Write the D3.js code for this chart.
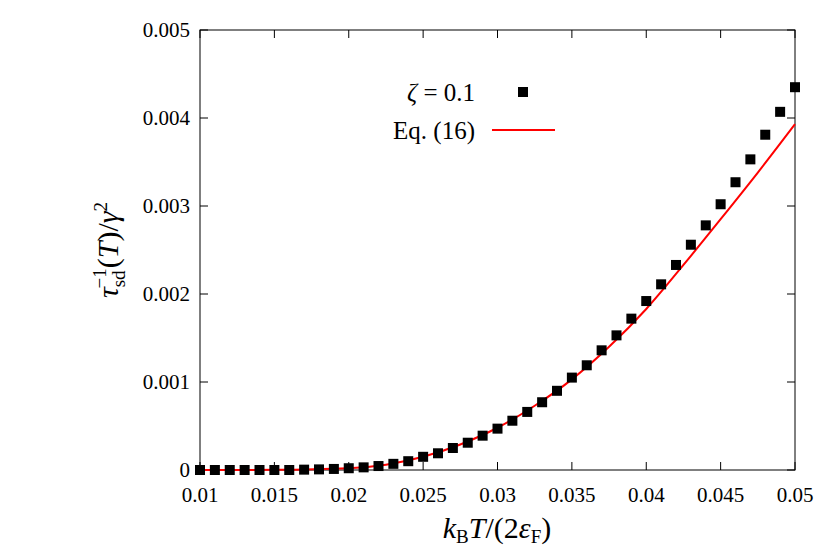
<!DOCTYPE html>
<html><head><meta charset="utf-8">
<script src="https://cdn.jsdelivr.net/npm/d3@7"></script>
<style>body{margin:0;background:#fff} text{font-family:"Times New Roman","Liberation Serif",serif}</style></head>
<body><svg id="c" width="830" height="552"></svg>
<script>
const pointX = d3.range(41).map(i => +(0.01 + i*0.001).toFixed(3));
const pointY = [0,0,0,0,0,0,0,0.000004,0.000007,0.000012,0.00002,0.00003,0.000045,0.00007,0.0001,0.00015,0.00019,0.00025,0.00031,0.00039,0.00047,0.00056,0.00066,0.00077,0.0009,0.00105,0.00119,0.00136,0.00153,0.00172,0.00192,0.00211,0.00233,0.00256,0.00278,0.00302,0.00327,0.00353,0.00381,0.00407,0.00435];
const curveX = [0.01,0.015,0.02,0.0225,0.025,0.0275,0.03,0.0325,0.035,0.0375,0.04,0.0425,0.045,0.0475,0.05];
const curveY = [0,0.000002,0.00002,0.00006,0.00015,0.00029,0.00048,0.00073,0.00103,0.0014,0.00183,0.00233,0.00285,0.00338,0.00393];
const xTicks = [0.01,0.015,0.02,0.025,0.03,0.035,0.04,0.045,0.05];
const yTicks = [0,0.001,0.002,0.003,0.004,0.005];

const svg = d3.select("#c");
const L=200,R=795,T=30,B=470;
const x = d3.scaleLinear().domain([0.01,0.05]).range([L,R]);
const y = d3.scaleLinear().domain([0,0.005]).range([B,T]);

svg.append("rect").attr("x",L).attr("y",T).attr("width",R-L).attr("height",B-T)
  .attr("fill","none").attr("stroke","#000").attr("stroke-width",1);

const g = svg.append("g").attr("font-size",21);
xTicks.forEach(t=>{
  g.append("line").attr("x1",x(t)).attr("x2",x(t)).attr("y1",B).attr("y2",B-8).attr("stroke","#000");
  g.append("line").attr("x1",x(t)).attr("x2",x(t)).attr("y1",T).attr("y2",T+8).attr("stroke","#000");
  g.append("text").attr("x",x(t)).attr("y",B+32).attr("text-anchor","middle").text(String(t));
});
yTicks.forEach(t=>{
  g.append("line").attr("x1",L).attr("x2",L+8).attr("y1",y(t)).attr("y2",y(t)).attr("stroke","#000");
  g.append("line").attr("x1",R).attr("x2",R-8).attr("y1",y(t)).attr("y2",y(t)).attr("stroke","#000");
  g.append("text").attr("x",L-10).attr("y",y(t)+7).attr("text-anchor","end").text(t===0?"0":t.toFixed(3));
});

const line = d3.line().x((d,i)=>x(curveX[i])).y(d=>y(d)).curve(d3.curveMonotoneX);
svg.append("path").datum(curveY).attr("d",line).attr("fill","none").attr("stroke","#ff0000").attr("stroke-width",2);

svg.append("g").selectAll("rect").data(pointY).join("rect")
  .attr("x",(d,i)=>x(pointX[i])-5).attr("y",d=>y(d)-5).attr("width",10).attr("height",10).attr("fill","#000");

const lg = svg.append("g").attr("font-size",25);
lg.append("text").attr("x",475).attr("y",101).attr("text-anchor","end")
  .html('<tspan font-style="italic">ζ</tspan> = 0.1');
lg.append("rect").attr("x",518).attr("y",87).attr("width",10).attr("height",10).attr("fill","#000");
lg.append("text").attr("x",475).attr("y",139).attr("text-anchor","end").text("Eq. (16)");
lg.append("line").attr("x1",492).attr("x2",555).attr("y1",130).attr("y2",130).attr("stroke","#ff0000").attr("stroke-width",2);

svg.append("text").attr("font-size",30).attr("text-anchor","middle")
  .attr("x",497).attr("y",538)
  .html('<tspan font-style="italic">k</tspan><tspan font-size="19" dy="5">B</tspan><tspan dy="-5" font-style="italic">T</tspan>/(2<tspan font-style="italic">ε</tspan><tspan font-size="19" dy="5">F</tspan><tspan dy="-5">)</tspan>');
svg.append("text").attr("font-size",30).attr("text-anchor","middle")
  .attr("transform","translate(118,250) rotate(-90)")
  .html('<tspan font-style="italic">τ</tspan><tspan font-size="19" dy="7">sd</tspan><tspan font-size="19" dx="-18" dy="-19">−1</tspan><tspan dy="12">(</tspan><tspan font-style="italic">T</tspan>)/<tspan font-style="italic">γ</tspan><tspan font-size="19" dy="-11">2</tspan>');
</script></body></html>
